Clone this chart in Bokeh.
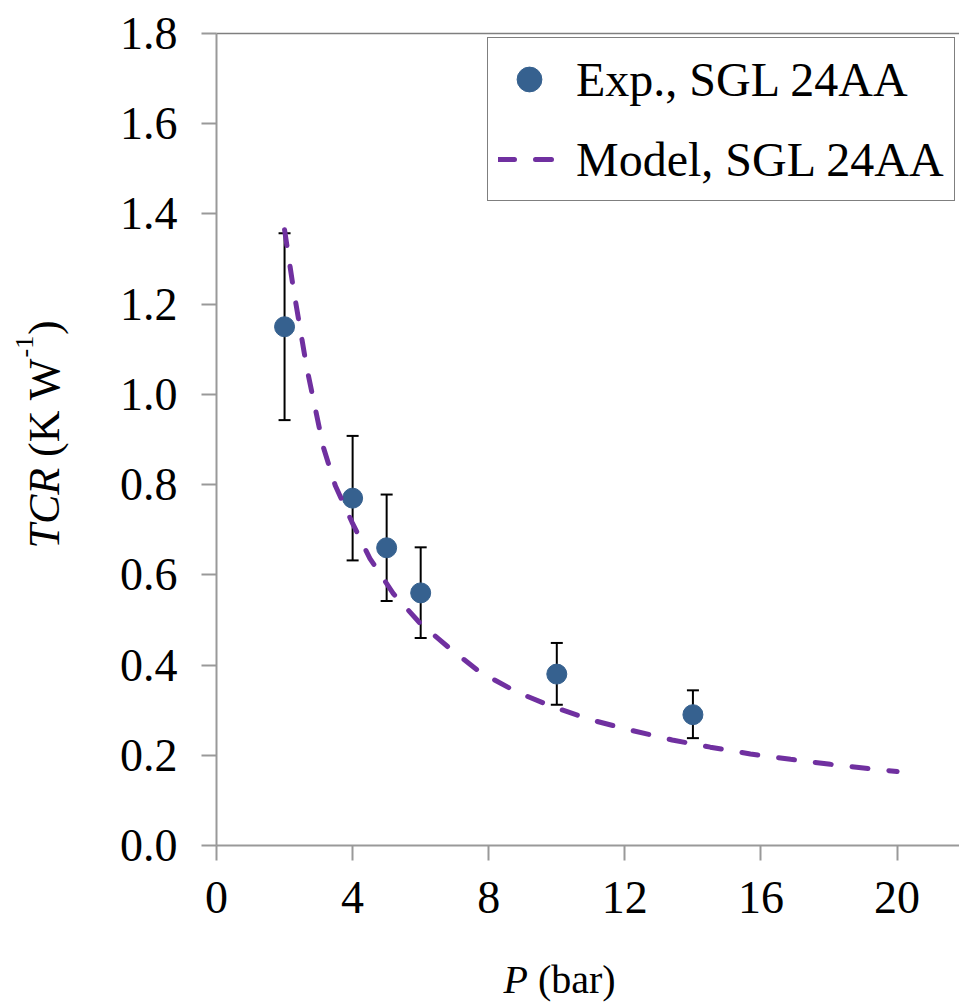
import math
from bokeh.plotting import figure
from bokeh.models import (ColumnDataSource, Whisker, TeeHead, Range1d, FixedTicker,
                          Legend, LegendItem, NumeralTickFormatter)
from bokeh.core.properties import value
from bokeh.embed import file_html
from bokeh.resources import INLINE

# ---- data ----
pressure = [2, 4, 5, 6, 10, 14]
tcr_exp = [1.15, 0.77, 0.66, 0.56, 0.38, 0.29]
tcr_upper = [1.357, 0.908, 0.778, 0.661, 0.449, 0.344]
tcr_lower = [0.943, 0.632, 0.542, 0.460, 0.312, 0.238]

model_p = [2.0, 2.26, 2.65, 3.14, 3.49, 3.98, 4.51, 5.2, 5.99, 6.87, 7.75, 8.83,
           9.9, 11.08, 12.21, 13.39, 14.51, 15.69, 16.87, 18.04, 19.22, 20.0]
model_tcr = [1.365, 1.234, 1.060, 0.883, 0.798, 0.717, 0.636, 0.558, 0.492, 0.436,
             0.384, 0.340, 0.307, 0.277, 0.255, 0.234, 0.218, 0.203, 0.191, 0.180,
             0.170, 0.164]

x_ticks = [0, 4, 8, 12, 16, 20]
y_ticks = [0.0, 0.2, 0.4, 0.6, 0.8, 1.0, 1.2, 1.4, 1.6, 1.8]

exp_label = "Exp., SGL 24AA"
model_label = "Model, SGL 24AA"

FONT = "Liberation Serif"
AXIS_GRAY = "#999999"

# ---- layout (pixels) ----
W, H = 959, 1005
X0_PX, Y0_PX = 216, 845          # where the axes cross
PX_PER_X = 34.03                 # px per bar
PX_PER_Y = 451.1                 # px per K/W


def px_x(px):
    return (px - X0_PX) / PX_PER_X


def px_y(py):
    return (Y0_PX - py) / PX_PER_Y


x_end = px_x(W)
p = figure(width=W, height=H, output_backend="svg", toolbar_location=None,
           x_range=Range1d(px_x(0), x_end), y_range=Range1d(px_y(H), px_y(0)),
           min_border=0, title=None)
p.outline_line_color = None
p.grid.visible = False
p.background_fill_color = "white"
p.border_fill_color = "white"

for ax in (p.xaxis[0], p.yaxis[0]):
    ax.fixed_location = 0
    ax.axis_line_color = AXIS_GRAY
    ax.axis_line_width = 2
    ax.major_tick_line_color = AXIS_GRAY
    ax.major_tick_line_width = 2
    ax.major_tick_out = 15
    ax.major_tick_in = 0
    ax.minor_tick_line_color = None
    ax.major_label_text_font = FONT
    ax.major_label_text_font_size = "46px"
    ax.major_label_text_color = "black"

p.xaxis.bounds = (0, x_end)
p.yaxis.bounds = (0, y_ticks[-1])
p.xaxis.ticker = FixedTicker(ticks=x_ticks)
p.yaxis.ticker = FixedTicker(ticks=y_ticks)
p.yaxis.formatter = NumeralTickFormatter(format="0.0")
p.xaxis.major_label_standoff = 21
p.yaxis.major_label_standoff = 24

# top border line of the plot area (at the top of the value axis)
p.segment(x0=[0], x1=[x_end], y0=[y_ticks[-1]], y1=[y_ticks[-1]],
          line_color="#7f7f7f", line_width=1.5)

# error bars
src = ColumnDataSource(dict(p=pressure, tcr=tcr_exp, upper=tcr_upper, lower=tcr_lower))
wh = Whisker(source=src, base="p", upper="upper", lower="lower",
             line_color="black", line_width=2, level="underlay",
             upper_head=TeeHead(size=12, line_color="black", line_width=2),
             lower_head=TeeHead(size=12, line_color="black", line_width=2))
p.add_layout(wh)

sc = p.scatter("p", "tcr", source=src, size=20, color="#36618F", line_color="#36618F")

msrc = ColumnDataSource(dict(p=model_p, tcr=model_tcr))
ln = p.line("p", "tcr", source=msrc, line_color="#7030A0", line_width=5,
            line_dash="16 21", line_cap="round")

# legend: bottom-left corner given in screen px from the frame's bottom-left
legend = Legend(items=[LegendItem(label=exp_label, renderers=[sc]),
                       LegendItem(label=model_label, renderers=[ln])],
                location=(487, H - 201), border_line_color="black", border_line_width=1.5,
                background_fill_color="white", background_fill_alpha=1.0,
                padding=10, margin=0, spacing=18, glyph_width=62, glyph_height=62,
                label_height=62, label_standoff=16, label_text_font=FONT,
                label_text_color="black",
                label_text_font_size="48px", label_text_baseline="middle")
p.add_layout(legend)

# ---- y-axis title: "TCR" italic + "(K W" + superscript "-1" + ")" ----
# (bx = centre of the text line, by = start of the text, both in page px)
ang = math.pi / 2
yparts = [("TCR", "italic", "44px", 44, 548),
          ("(K W", "normal", "44px", 44, 456.5),
          ("-1", "normal", "26px", 24, 357.0),
          (")", "normal", "44px", 44, 334.5)]
for txt, style, size, bx, by in yparts:
    p.text(x=[px_x(bx)], y=[px_y(by)], text=[txt], angle=ang,
           text_font=value(FONT), text_font_style=value(style),
           text_font_size=value(size), text_align="left",
           text_baseline="middle", text_color="black")

# ---- x-axis title: "P" italic + "(bar)" ----
xparts = [("P", "italic", 503), ("(bar)", "normal", 537.4)]
for txt, style, bx in xparts:
    p.text(x=[px_x(bx)], y=[px_y(979)], text=[txt], text_font=value(FONT),
           text_font_style=value(style), text_font_size=value("40px"),
           text_align="left", text_baseline="middle", text_color="black")

open("out.html", "w").write(file_html(p, INLINE))
